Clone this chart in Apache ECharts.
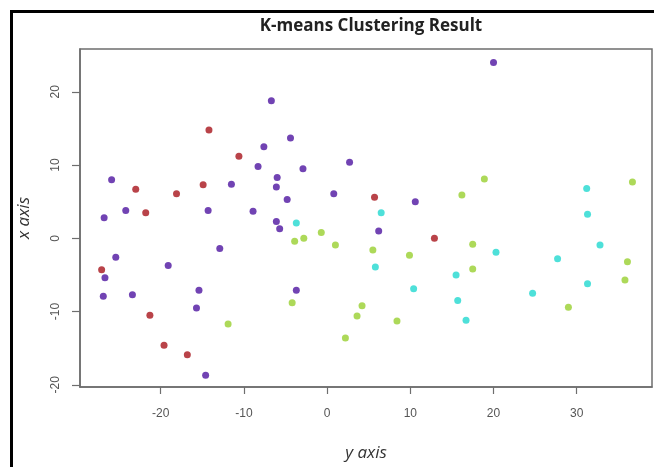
<!DOCTYPE html>
<html>
<head>
<meta charset="utf-8">
<script src="https://cdn.jsdelivr.net/npm/echarts@6/dist/echarts.min.js"></script>
<style>
  html, body { margin: 0; padding: 0; background: #fff; }
  #chart { width: 654px; height: 467px; }
</style>
</head>
<body>
<div id="chart"></div>
<script>
// cluster points, [y axis value, x axis value]
var purplePts = [
    [20.0, 24.0], [-6.7, 18.8], [-4.4, 13.7], [-7.6, 12.5], [2.7, 10.4],
    [-8.3, 9.8], [-2.9, 9.5], [-25.9, 8.0], [-11.5, 7.4], [-6.0, 8.3],
    [-6.1, 7.0], [0.8, 6.1], [-4.8, 5.3], [10.6, 5.0], [-24.2, 3.8],
    [-14.3, 3.8], [-8.9, 3.7], [-26.8, 2.8], [-6.1, 2.3], [-5.7, 1.3],
    [6.2, 1.0], [-12.9, -1.4], [-25.4, -2.6], [-19.1, -3.7], [-26.7, -5.4],
    [-15.4, -7.1], [-3.7, -7.1], [-26.9, -7.9], [-23.4, -7.7], [-15.7, -9.5],
    [-14.6, -18.7]
];
var redPts = [
    [-14.2, 14.8], [-10.6, 11.2], [-14.9, 7.3], [-23.0, 6.7], [-18.1, 6.1],
    [-21.8, 3.5], [5.7, 5.6], [12.9, 0.0], [-27.1, -4.3], [-21.3, -10.5],
    [-19.6, -14.6], [-16.8, -15.9]
];
var cyanPts = [
    [-3.7, 2.1], [6.5, 3.5], [31.2, 6.8], [31.3, 3.3], [32.8, -0.9],
    [20.3, -1.9], [27.7, -2.8], [5.8, -3.9], [15.5, -5.0], [31.3, -6.2],
    [10.4, -6.9], [24.7, -7.5], [15.7, -8.5], [16.7, -11.2]
];
var greenPts = [
    [18.9, 8.1], [16.2, 5.9], [36.7, 7.7], [-0.7, 0.8], [-2.8, 0.0],
    [-3.9, -0.4], [1.0, -0.9], [17.5, -0.8], [5.5, -1.6], [9.9, -2.3],
    [36.1, -3.2], [17.5, -4.2], [35.8, -5.7], [-4.2, -8.8], [4.2, -9.2],
    [29.0, -9.4], [3.6, -10.6], [8.4, -11.3], [-11.9, -11.7], [2.2, -13.6]
];
var xTicks = [-20, -10, 0, 10, 20, 30];
var yTicks = [-20, -10, 0, 10, 20];

var chart = echarts.init(document.getElementById('chart'));

function pts(data, color) {
    return {
        type: 'scatter',
        data: data,
        symbol: 'circle',
        symbolSize: 7,
        itemStyle: { color: color },
        silent: true
    };
}

var axisGray = '#6e6e6e';

chart.setOption({
    animation: false,
    backgroundColor: '#fff',
    title: {
        text: 'K-means Clustering Result',
        left: 366,
        textAlign: 'center',
        top: 13,
        textStyle: { fontFamily: 'Open Sans', fontWeight: 'bold', fontSize: 17, color: '#222' }
    },
    graphic: [{
        type: 'rect',
        left: 9, top: 9,
        shape: { width: 700, height: 520 },
        style: { fill: null, stroke: '#000', lineWidth: 3 },
        silent: true
    }],
    grid: {
        left: 80, top: 49, right: 2, bottom: 70,
        show: true,
        borderColor: axisGray,
        borderWidth: 1.5
    },
    xAxis: {
        type: 'value',
        min: -29.7, max: 39.05,
        name: 'y axis',
        nameLocation: 'middle',
        nameGap: 58,
        nameTextStyle: { fontFamily: 'Open Sans', fontStyle: 'italic', fontSize: 17, color: '#333' },
        splitLine: { show: false },
        axisLine: { show: true, onZero: false, lineStyle: { color: axisGray, width: 1.5 } },
        axisTick: { show: true, length: 7, customValues: xTicks, lineStyle: { color: axisGray, width: 1.2 } },
        axisLabel: {
            customValues: xTicks, margin: 21,
            fontFamily: 'Liberation Sans', fontSize: 12, color: '#555'
        }
    },
    yAxis: {
        type: 'value',
        min: -20.3, max: 25.85,
        name: 'x axis',
        nameLocation: 'middle',
        nameGap: 47,
        nameTextStyle: { fontFamily: 'Open Sans', fontStyle: 'italic', fontSize: 17, color: '#333' },
        splitLine: { show: false },
        axisLine: { show: true, onZero: false, lineStyle: { color: axisGray, width: 1.5 } },
        axisTick: { show: true, length: 8, customValues: yTicks, lineStyle: { color: axisGray, width: 1.2 } },
        axisLabel: {
            customValues: yTicks, rotate: 90, margin: 18,
            fontFamily: 'Liberation Sans', fontSize: 12, color: '#555'
        }
    },
    series: [
        pts(purplePts, '#4e14a0'),
        pts(redPts, '#a8141c'),
        pts(cyanPts, '#22d8d0'),
        pts(greenPts, '#98d030')
    ]
});

window.onresize = chart.resize;
</script>
</body>
</html>
